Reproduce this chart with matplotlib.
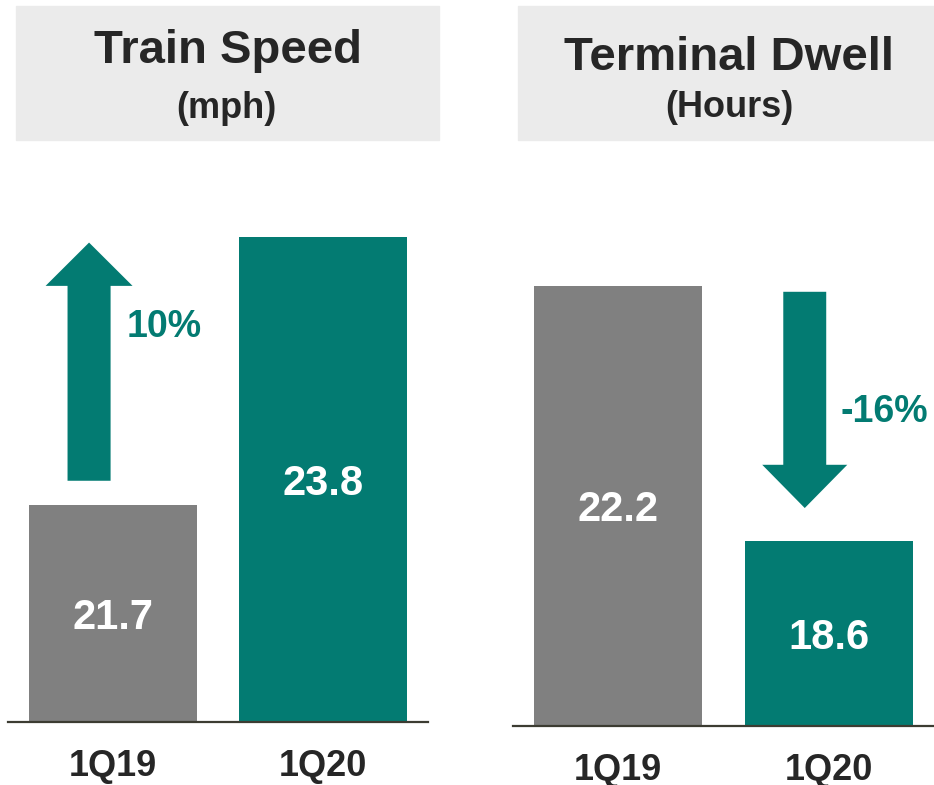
import matplotlib
matplotlib.use('Agg')
import matplotlib.pyplot as plt
from matplotlib.patches import Rectangle

plt.rcParams['font.family'] = ['Liberation Sans', 'DejaVu Sans']

# data
categories = ['1Q19', '1Q20']
speed = [21.7, 23.8]
dwell = [22.2, 18.6]
speed_change = '10%'
dwell_change = '-16%'

GRAY = '#808080'
TEAL = '#037B72'
DARK = '#262626'
HEADER = '#EBEBEB'

W, H = 934, 785
fig = plt.figure(figsize=(W / 100, H / 100), dpi=100)


def box(x0, y0, x1, y1):
    # pixel box (top-left origin) -> figure fraction rect
    return [x0 / W, 1 - y1 / H, (x1 - x0) / W, (y1 - y0) / H]


def panel(ax, values, ylim):
    ax.bar(range(len(values)), values, width=0.8, color=[GRAY, TEAL])
    ax.set_xlim(-0.5, 1.5)
    ax.set_ylim(*ylim)
    for i, v in enumerate(values):
        ax.text(i, (ylim[0] + v) / 2, f'{v:.1f}', ha='center', va='center_baseline',
                color='white', fontsize=30, fontweight='bold')
    for s in ['top', 'left', 'right']:
        ax.spines[s].set_visible(False)
    ax.spines['bottom'].set_color('#3c3c32')
    ax.spines['bottom'].set_linewidth(1.6)
    ax.set_yticks([])
    ax.set_xticks(range(len(values)), categories)
    ax.tick_params(axis='x', length=0, pad=20, labelsize=26, labelcolor=DARK)
    for lbl in ax.get_xticklabels():
        lbl.set_fontweight('bold')


ax1 = fig.add_axes(box(8, 212, 428, 721.5))
panel(ax1, speed, (20, 24))
ax1.arrow(-0.114, speed[0] + 0.19, 0, (speed[1] - 0.04) - (speed[0] + 0.19),
          width=0.205, head_width=0.414, head_length=0.34,
          length_includes_head=True, color=TEAL, lw=0)
ax1.text(0.064, 23.1, speed_change, ha='left', va='center', color=TEAL,
         fontsize=27, fontweight='bold')

ax2 = fig.add_axes(box(513, 229.4, 934, 725.7))
panel(ax2, dwell, (16, 23))
ax2.arrow(0.886, dwell[0] - 0.08, 0, (dwell[1] + 0.47) - (dwell[0] - 0.08),
          width=0.204, head_width=0.404, head_length=0.61,
          length_includes_head=True, color=TEAL, lw=0)
ax2.text(1.055, 20.42, dwell_change, ha='left', va='center', color=TEAL,
         fontsize=27, fontweight='bold')

# header boxes
fig.add_artist(Rectangle((16 / W, 1 - 140 / H), 423 / W, 134 / H,
                         transform=fig.transFigure, color=HEADER, zorder=0))
fig.add_artist(Rectangle((518 / W, 1 - 140 / H), 430 / W, 134 / H,
                         transform=fig.transFigure, color=HEADER, zorder=0))

fig.text(227.5 / W, 1 - 63 / H, 'Train Speed', ha='center', va='baseline',
         fontsize=34, fontweight='bold', color=DARK)
fig.text(226 / W, 1 - 118 / H, '(mph)', ha='center', va='baseline',
         fontsize=26, fontweight='bold', color=DARK)
fig.text(728.5 / W, 1 - 70 / H, 'Terminal Dwell', ha='center', va='baseline',
         fontsize=34, fontweight='bold', color=DARK)
fig.text(729 / W, 1 - 117 / H, '(Hours)', ha='center', va='baseline',
         fontsize=26, fontweight='bold', color=DARK)

fig.savefig('out.png', dpi=100)
